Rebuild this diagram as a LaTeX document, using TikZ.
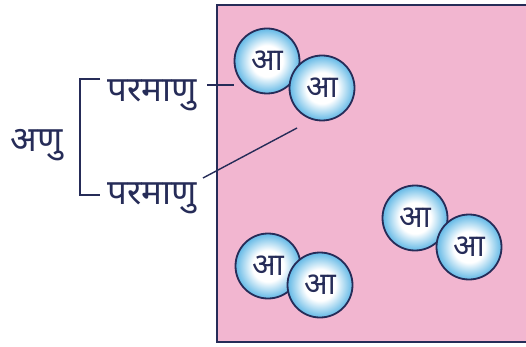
\documentclass[tikz,border=0pt]{standalone}
\usepackage{fontspec}
\newfontfamily\deva[Script=Devanagari]{Noto Sans}
\definecolor{navy}{RGB}{38,44,88}
\definecolor{pinkbg}{RGB}{242,182,208}
\definecolor{ballblue}{RGB}{62,168,224}
\definecolor{ballrim}{RGB}{40,140,205}
\pgfdeclareradialshading{atomshade}{\pgfpoint{0bp}{0bp}}{%
  color(0bp)=(white); color(12bp)=(white); color(28bp)=(ballblue); color(34bp)=(ballrim); color(50bp)=(ballrim)}
\begin{document}
\begin{tikzpicture}[x=1pt,y=-1pt,
  lbl/.style={text=navy,font=\deva\fontsize{35}{38}\selectfont,inner sep=0pt},
  atom/.style={circle,minimum size=65pt,draw=navy,line width=1.8pt,shading=atomshade,
    text=navy,font=\deva\fontsize{31}{34}\selectfont,inner sep=0pt},
  link/.style={draw=navy,line width=1.4pt}]
\useasboundingbox (0,0) rectangle (526,347);
\fill[white] (0,0) rectangle (526,347);
\fill[pinkbg] (217,5) rectangle (526,342);
\draw[navy,line width=2pt] (526,5) -- (217,5) -- (217,342) -- (526,342);
% molecules
\node[atom] (a1) at (267,61) {आ};
\node[atom] (a2) at (322,88) {आ};
\node[atom] (b1) at (415,218) {आ};
\node[atom] (b2) at (469,247) {आ};
\node[atom] (c1) at (268,266) {आ};
\node[atom] (c2) at (320,285) {आ};
% labels
\node[lbl] (anu) at (37,145) {अणु};
\node[lbl] (p1) at (152,95) {परमाणु};
\node[lbl] (p2) at (152,198) {परमाणु};
\coordinate (bt) at (100,79);
\coordinate (bb) at (100,195);
\draw[link,line width=1.8pt] (bt) -- (80,79) -- (80,195) -- (bb);
\coordinate (e1) at (207,85);
\draw[link] (e1) -- (a1.west |- e1);
\coordinate (e2) at (203,178);
\coordinate (f2) at (297,128);
\draw[link] (e2) -- (f2);
\end{tikzpicture}
\end{document}
